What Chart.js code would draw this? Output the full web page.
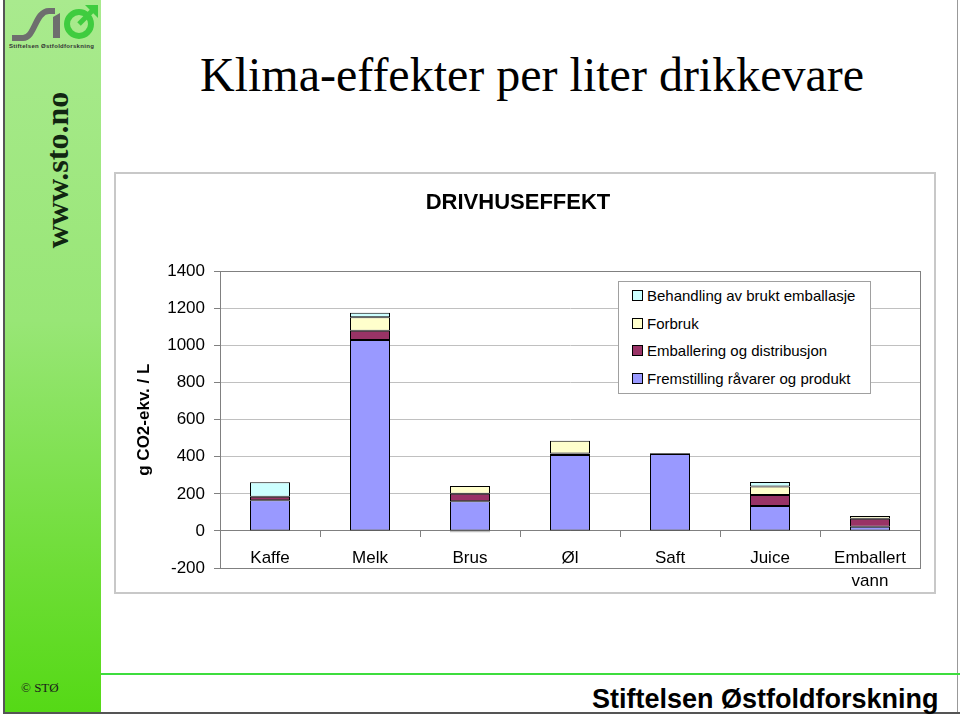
<!DOCTYPE html>
<html>
<head>
<meta charset="utf-8">
<script src="https://cdn.jsdelivr.net/npm/chart.js"></script>
<style>
  body { margin: 0; width: 960px; height: 719px; background: #fff; position: relative; overflow: hidden; font-family: Arial, "Liberation Sans", sans-serif; }
  #sidebar { position: absolute; left: 5px; top: 0; width: 96px; height: 712px; background: linear-gradient(#a9ea8e 0%, #98e676 45%, #6edd36 80%, #55d916 100%); }
  #frame-left { position: absolute; left: 3px; top: 0; width: 2px; height: 714px; background: #555; }
  #frame-bottom { position: absolute; left: 3px; top: 712px; width: 957px; height: 2px; background: #555; }
  #frame-right { position: absolute; left: 957px; top: 0; width: 1px; height: 714px; background: #999; }
  #footer-line { position: absolute; left: 101px; top: 673px; width: 859px; height: 2px; background: #3ddd3d; }
  #www { position: absolute; left: 57px; top: 170px; transform: translate(-50%, -50%) rotate(-90deg); font: bold 32px "Liberation Serif", "Times New Roman", serif; color: #112611; white-space: nowrap; }
  #logo-text { position: absolute; left: 9px; top: 43px; font: bold 6px Arial, sans-serif; letter-spacing: 0.3px; color: #333; white-space: nowrap; }
  #copy { position: absolute; left: 21px; top: 680px; font: 13px "Liberation Serif", serif; color: #1a1a1a; }
  #title { position: absolute; left: 200px; top: 51px; font: 48px/1 "Liberation Serif", "Times New Roman", serif; color: #000; white-space: nowrap; }
  #org { position: absolute; left: 592px; top: 683px; font: bold 27px/1.2 Arial, "Liberation Sans", sans-serif; color: #000; white-space: nowrap; }
  #box { position: absolute; left: 114px; top: 172px; width: 818px; height: 418px; border: 2px solid #c8c8c8; background: #fff; }
  #legend { position: absolute; left: 618px; top: 281px; width: 251px; height: 111px; border: 1px solid #a0a0a0; background: #fff; }
  .row { height: 27.5px; display: flex; align-items: center; font: 15px Arial, "Liberation Sans", sans-serif; color: #000; white-space: nowrap; }
  .key { width: 9px; height: 9px; border: 1px solid #000; margin-left: 13px; margin-right: 4px; }
</style>
</head>
<body>
<div id="sidebar"></div>
<div id="frame-left"></div>
<div id="frame-right"></div>
<div id="frame-bottom"></div>
<div id="footer-line"></div>

<svg style="position:absolute;left:5px;top:0" width="96" height="44">
  <path d="M7 38 L18 38 C30 38 30 11 44 11 L50 11" fill="none" stroke="#6e6e6e" stroke-width="6"/>
  <path d="M48 17 L55 13 L55 38 L48 38 Z" fill="#6e6e6e"/>
  <circle cx="74" cy="24" r="12" fill="none" stroke="#3fcc3f" stroke-width="6"/>
  <path d="M74 24 L88 10" stroke="#3fcc3f" stroke-width="5"/>
  <path d="M80 5 L93 5 L93 18 Z" fill="#3fcc3f"/>
</svg>
<div id="logo-text">Stiftelsen Østfoldforskning</div>
<div id="www">www.sto.no</div>
<div id="copy">© STØ</div>
<div id="title">Klima-effekter per liter drikkevare</div>
<div id="org">Stiftelsen Østfoldforskning</div>

<div id="box"><canvas id="chart" width="818" height="418"></canvas></div>
<div id="legend"></div>

<script>
// data set
const categories = ['Kaffe', 'Melk', 'Brus', 'Øl', 'Saft', 'Juice', ['Emballert', 'vann']];
const fremstilling = [165, 1030, 160, 410, 415, 135, 23];
const emballering = [19, 50, 40, 8, 4, 59, 43];
const forbruk = [0, 72, 43, 68, 1, 45, 14];
const behandling = [78, 25, -7, 0, 0, 25, 1];

// y axis ticks
const yMin = -200;
const yMax = 1400;
const yStep = 200;

const seriesNames = [
  'Fremstilling råvarer og produkt',
  'Emballering og distribusjon',
  'Forbruk',
  'Behandling av brukt emballasje'
];
const seriesColors = ['#9999ff', '#993366', '#ffffcc', '#ccffff'];
const seriesData = [fremstilling, emballering, forbruk, behandling];

// gray frame round the plot area
const plotBorder = {
  id: 'plotBorder',
  afterDraw(chart) {
    const a = chart.chartArea;
    const ctx = chart.ctx;
    ctx.save();
    ctx.strokeStyle = '#808080';
    ctx.lineWidth = 1;
    ctx.strokeRect(Math.round(a.left) + 0.5, Math.round(a.top) + 0.5, Math.round(a.right - a.left), Math.round(a.bottom - a.top));
    ctx.restore();
  }
};

const chart = new Chart('chart', {
  type: 'bar',
  data: {
    labels: categories,
    datasets: seriesData.map((d, i) => ({
      label: seriesNames[i],
      data: d,
      backgroundColor: seriesColors[i],
      borderColor: '#000',
      borderWidth: 1,
      borderSkipped: false,
      categoryPercentage: 1,
      barPercentage: 0.4
    }))
  },
  options: {
    responsive: false,
    animation: false,
    layout: { padding: { left: 0, right: 14, top: 0, bottom: 24 } },
    plugins: {
      legend: { display: false },
      tooltip: { enabled: false },
      title: {
        display: true,
        text: 'DRIVHUSEFFEKT',
        color: '#000',
        font: { family: 'Arial', size: 22, weight: 'bold' },
        padding: { top: 16, bottom: 55 }
      }
    },
    scales: {
      x: {
        stacked: true,
        position: { y: 0 },
        grid: { drawOnChartArea: false, color: '#808080', tickLength: 6, offset: true },
        border: { color: '#808080' },
        ticks: { color: '#000', font: { family: 'Arial', size: 17, lineHeight: 1.35 }, padding: 10, maxRotation: 0, autoSkip: false }
      },
      y: {
        stacked: true,
        min: yMin,
        max: yMax,
        afterFit: s => { s.width = 104; },
        ticks: { stepSize: yStep, color: '#000', font: { family: 'Arial', size: 17 }, padding: 9, callback: v => String(v) },
        grid: {
          color: c => c.tick.value === 0 ? '#808080' : '#c0c0c0',
          tickColor: '#808080',
          tickLength: 6
        },
        border: { color: '#808080' },
        title: {
          display: true,
          text: 'g CO2-ekv. / L',
          color: '#000',
          font: { family: 'Arial', size: 17, weight: 'bold' },
          padding: { top: 18, bottom: 0 }
        }
      }
    }
  },
  plugins: [plotBorder]
});

// legend, listed top-down like the stack
const legendBox = document.querySelector('#legend');
chart.data.datasets.slice().reverse().forEach(ds => {
  const row = document.createElement('div');
  row.className = 'row';
  row.innerHTML = `<span class="key" style="background:${ds.backgroundColor}"></span><span>${ds.label}</span>`;
  legendBox.appendChild(row);
});
</script>
</body>
</html>
